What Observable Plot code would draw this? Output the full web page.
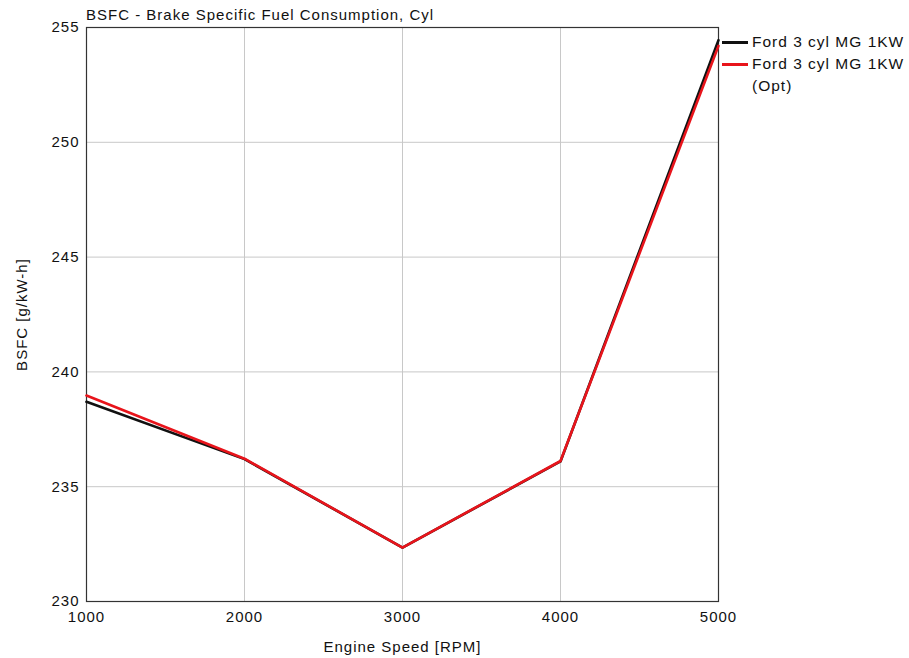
<!DOCTYPE html>
<html>
<head>
<meta charset="utf-8">
<script src="https://cdn.jsdelivr.net/npm/d3@7"></script>
<script src="https://cdn.jsdelivr.net/npm/@observablehq/plot@0.6"></script>
<style>
  body { margin: 0; background: #fff; font-family: "Liberation Sans", Arial, sans-serif; }
  #wrap { position: relative; width: 909px; height: 658px; }
  #title { position: absolute; left: 86px; top: 6px; font-size: 15px; letter-spacing: 1px; color: #111; white-space: nowrap; }
  #legend { position: absolute; left: 722px; top: 31px; font-size: 15.5px; letter-spacing: 1px; color: #111; white-space: nowrap; }
  .item { display: flex; align-items: flex-start; line-height: 22px; }
  .sw { width: 26px; height: 3px; margin-top: 10px; margin-right: 4px; flex: none; }
  #chart svg text { letter-spacing: 1px; }
</style>
</head>
<body>
<div id="wrap">
  <div id="chart"></div>
  <div id="title">BSFC - Brake Specific Fuel Consumption, Cyl</div>
  <div id="legend"></div>
</div>
<script>
const speeds = [1000, 2000, 3000, 4000, 5000];
const bsfcBase = [238.7, 236.2, 232.35, 236.1, 254.45];
const bsfcOpt = [238.97, 236.22, 232.35, 236.12, 254.2];
const seriesNames = ["Ford 3 cyl MG 1KW", "Ford 3 cyl MG 1KW (Opt)"];
const seriesColors = ["#111111", "#e8141b"];
const xTicks = [1000, 2000, 3000, 4000, 5000];
const yTicks = [230, 235, 240, 245, 250, 255];

const rows = [];
[bsfcBase, bsfcOpt].forEach((vals, s) => {
  speeds.forEach((x, i) => rows.push({series: seriesNames[s], x, y: vals[i]}));
});

const chart = Plot.plot({
  width: 909,
  height: 658,
  marginLeft: 86,
  marginRight: 191,
  marginTop: 27,
  marginBottom: 57,
  style: { fontFamily: "Liberation Sans, Arial, sans-serif", fontSize: "15px", color: "#111", background: "#fff" },
  x: { domain: [1000, 5000], ticks: xTicks },
  y: { domain: [230, 255], ticks: yTicks },
  color: { domain: seriesNames, range: seriesColors },
  marks: [
    Plot.gridX(xTicks, { stroke: "#c8c8c8", strokeOpacity: 1, strokeWidth: 1 }),
    Plot.gridY(yTicks, { stroke: "#c8c8c8", strokeOpacity: 1, strokeWidth: 1 }),
    Plot.frame({ stroke: "#333", strokeWidth: 1.2 }),
    Plot.axisX(xTicks, { tickSize: 0, tickPadding: 10, tickFormat: d => String(d), label: "Engine Speed [RPM]", labelAnchor: "center", labelArrow: "none", labelOffset: 50, fontSize: 15 }),
    Plot.axisY(yTicks, { tickSize: 0, tickPadding: 7, tickFormat: d => String(d), label: "BSFC [g/kW-h]", labelAnchor: "center", labelArrow: "none", labelOffset: 70, fontSize: 15 }),
    Plot.line(rows, { x: "x", y: "y", z: "series", stroke: "series", strokeWidth: 2.6 })
  ]
});
document.getElementById("chart").appendChild(chart);

const legend = document.getElementById("legend");
seriesNames.forEach((name, i) => {
  const item = document.createElement("div");
  item.className = "item";
  const sw = document.createElement("div");
  sw.className = "sw";
  sw.style.background = seriesColors[i];
  const label = document.createElement("div");
  if (i === 1) {
    label.innerHTML = "Ford 3 cyl MG 1KW<br>(Opt)";
  } else {
    label.textContent = name;
  }
  item.appendChild(sw);
  item.appendChild(label);
  legend.appendChild(item);
});
</script>
</body>
</html>
